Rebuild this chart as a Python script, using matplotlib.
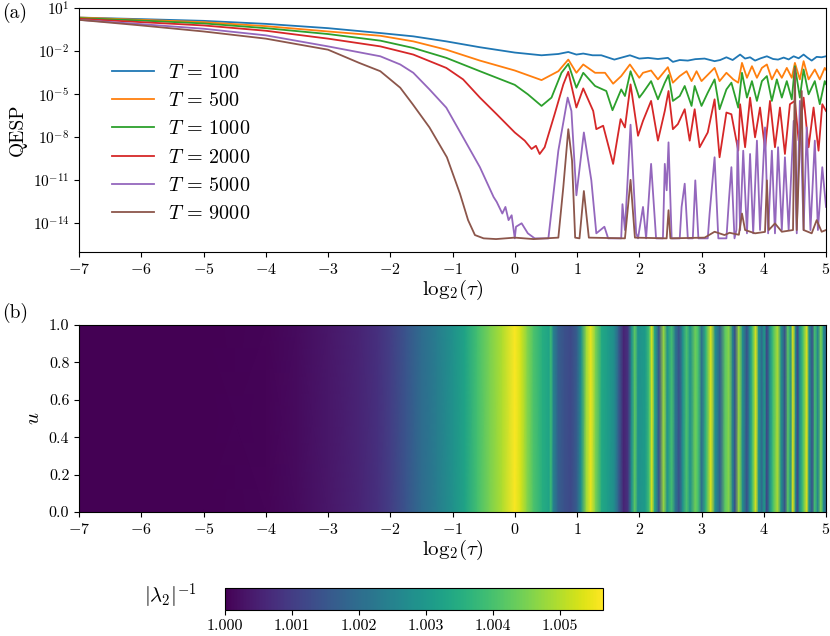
import numpy as np
import matplotlib
matplotlib.use('Agg')
import matplotlib.pyplot as plt

plt.rcParams['font.family'] = 'serif'
plt.rcParams['font.serif'] = ['cmr10', 'DejaVu Serif']
plt.rcParams['mathtext.fontset'] = 'cm'
plt.rcParams['axes.formatter.use_mathtext'] = True
plt.rcParams['axes.unicode_minus'] = True

# (log2(tau), log10(QESP))
qesp_T100 = [(-7, 0.34), (-6, 0.23), (-5, 0.11), (-4, -0.10), (-3, -0.40), (-2.16, -0.74),
             (-1.63, -0.97), (-1.1, -1.32), (-0.56, -1.73), (0, -2.10), (0.43, -2.29), (0.7, -2.20),
             (0.86, -2.06), (0.99, -2.24), (1.1, -2.17), (1.25, -2.29), (1.39, -2.29), (1.6, -2.59),
             (1.85, -2.29), (2.0, -2.52), (2.14, -2.47), (2.3, -2.55), (2.46, -2.47), (2.54, -2.75),
             (2.65, -2.62), (2.78, -2.66), (2.9, -2.56), (3.05, -2.52), (3.21, -2.70), (3.3, -2.62),
             (3.4, -2.43), (3.5, -2.62), (3.62, -2.24), (3.7, -2.52), (3.78, -2.43), (3.86, -2.66),
             (3.95, -2.50), (4.05, -2.36), (4.15, -2.55), (4.23, -2.59), (4.32, -2.45), (4.4, -2.58),
             (4.48, -2.36), (4.56, -2.50), (4.64, -2.24), (4.7, -2.45), (4.77, -2.66), (4.85, -2.40),
             (4.93, -2.43), (5.0, -2.36)]

qesp_T500 = [(-7, 0.34), (-6, 0.18), (-5, 0.02), (-4, -0.26), (-3, -0.63), (-2.16, -0.93),
             (-1.63, -1.32), (-1.1, -1.9), (-0.56, -2.66), (0, -3.35), (0.43, -4.02), (0.7, -3.4),
             (0.86, -2.59), (0.99, -3.51), (1.1, -2.93), (1.29, -3.51), (1.45, -3.51), (1.58, -4.27),
             (1.71, -3.74), (1.85, -2.93), (2.0, -3.86), (2.06, -3.51), (2.19, -3.35), (2.3, -3.97),
             (2.46, -3.12), (2.54, -4.2), (2.65, -3.74), (2.76, -3.4), (2.84, -4.09), (2.92, -3.4),
             (3.0, -4.09), (3.21, -3.17), (3.29, -4.09), (3.4, -3.51), (3.51, -3.97), (3.59, -4.2),
             (3.65, -2.82), (3.73, -3.86), (3.81, -3.05), (3.89, -3.86), (3.97, -3.17), (4.05, -2.93),
             (4.13, -3.97), (4.21, -3.28), (4.29, -3.86), (4.37, -3.17), (4.45, -3.86), (4.5, -2.82),
             (4.58, -3.97), (4.64, -2.7), (4.72, -3.97), (4.82, -3.28), (4.9, -3.97), (4.98, -3.17),
             (5.0, -3.3)]

qesp_T1000 = [(-7, 0.30), (-6, 0.13), (-5, -0.07), (-4, -0.40), (-3, -0.81), (-2.16, -1.27),
              (-1.63, -1.78), (-1.1, -2.47), (-0.56, -3.4), (0, -4.35), (0.21, -5.01), (0.43, -5.82),
              (0.59, -5.24), (0.75, -3.51), (0.86, -2.89), (0.99, -4.55), (1.1, -3.51), (1.29, -4.43),
              (1.47, -4.78), (1.57, -6.12), (1.71, -4.67), (1.77, -5.13), (1.86, -3.4), (2.0, -5.24),
              (2.06, -4.9), (2.19, -4.09), (2.3, -5.36), (2.41, -4.2), (2.47, -3.67), (2.54, -5.47),
              (2.65, -5.13), (2.73, -4.43), (2.84, -5.82), (2.89, -4.43), (3.0, -5.82), (3.1, -4.9),
              (3.21, -3.97), (3.29, -6.05), (3.4, -4.67), (3.48, -4.2), (3.59, -5.94), (3.65, -3.51),
              (3.73, -5.24), (3.81, -4.09), (3.89, -5.47), (3.97, -4.09), (4.05, -3.74), (4.13, -5.47),
              (4.21, -3.97), (4.29, -5.24), (4.37, -4.09), (4.45, -5.36), (4.5, -3.05), (4.58, -5.24),
              (4.64, -3.28), (4.72, -5.01), (4.82, -4.09), (4.9, -5.7), (4.98, -4.09), (5.0, -4.3)]

qesp_T2000 = [(-7, 0.25), (-6, 0.02), (-5, -0.21), (-4, -0.58), (-3, -1.13), (-2.16, -1.67),
              (-1.63, -2.24), (-1.1, -3.17), (-0.83, -3.97), (-0.56, -5.24), (-0.29, -6.4), (0, -7.67),
              (0.16, -8.24), (0.27, -8.82), (0.34, -8.6), (0.4, -9.17), (0.48, -8.7), (0.64, -6.4),
              (0.78, -4.32), (0.86, -3.44), (0.99, -5.93), (1.1, -4.6), (1.26, -6.17), (1.31, -7.44),
              (1.42, -7.2), (1.58, -9.86), (1.7, -6.74), (1.77, -7.32), (1.86, -4.32), (1.98, -7.9),
              (2.06, -6.86), (2.19, -5.47), (2.3, -8.24), (2.41, -6.17), (2.47, -4.78), (2.54, -7.44),
              (2.62, -7.09), (2.73, -6.05), (2.81, -8.24), (2.89, -6.05), (2.97, -8.7), (3.1, -7.67),
              (3.21, -5.36), (3.29, -9.4), (3.4, -6.28), (3.48, -6.4), (3.59, -8.94), (3.62, -5.7),
              (3.7, -8.7), (3.78, -5.24), (3.86, -8.01), (3.94, -5.93), (4.02, -8.82), (4.1, -5.47),
              (4.18, -8.7), (4.26, -5.93), (4.34, -9.17), (4.42, -5.7), (4.5, -5.47), (4.56, -8.24),
              (4.64, -5.24), (4.72, -8.7), (4.8, -5.93), (4.88, -8.94), (4.94, -5.7), (5.0, -6.17)]

qesp_T5000 = [(-7, 0.18), (-6, -0.12), (-5, -0.44), (-4, -0.9), (-3, -1.67), (-2.16, -2.36),
              (-1.84, -2.93), (-1.63, -3.51), (-1.37, -4.67), (-1.1, -5.94), (-0.83, -8.01),
              (-0.56, -10.09), (-0.34, -12.17), (-0.29, -12.51), (-0.2, -13.32), (-0.15, -12.86),
              (-0.1, -13.78), (-0.05, -13.44), (0.0, -15.05), (0.02, -14.24), (0.11, -14.0),
              (0.21, -14.7), (0.32, -15.05), (0.54, -15.05), (0.7, -8.94), (0.85, -5.24), (0.91, -6.17),
              (0.99, -12.05), (1.11, -7.67), (1.23, -11.01), (1.31, -14.7), (1.44, -14.24),
              (1.5, -15.05), (1.71, -15.05), (1.73, -12.67), (1.77, -14.47), (1.86, -7.13),
              (1.95, -14.7), (1.98, -15.05), (2.06, -12.86), (2.11, -15.05), (2.19, -9.86),
              (2.27, -15.05), (2.38, -15.05), (2.41, -9.86), (2.44, -11.7), (2.47, -8.36),
              (2.52, -15.05), (2.65, -15.05), (2.68, -12.86), (2.73, -11.24), (2.78, -15.05),
              (2.86, -15.05), (2.9, -11.01), (2.95, -15.05), (3.1, -15.05), (3.13, -13.32),
              (3.21, -9.4), (3.27, -15.05), (3.4, -15.05), (3.44, -12.4), (3.48, -10.09),
              (3.53, -15.05), (3.56, -14.47), (3.58, -8.24), (3.62, -14.47), (3.67, -8.94),
              (3.73, -14.7), (3.78, -9.17), (3.83, -14.7), (3.89, -8.24), (3.94, -14.47), (4.02, -7.32),
              (4.07, -14.7), (4.13, -8.94), (4.18, -14.7), (4.23, -8.7), (4.29, -14.47), (4.34, -9.4),
              (4.4, -14.47), (4.48, -6.86), (4.53, -14.7), (4.58, -5.47), (4.64, -14.47), (4.69, -7.32),
              (4.75, -14.47), (4.82, -8.24), (4.87, -14.47), (4.94, -10.09), (5.0, -12.86)]

qesp_T9000 = [(-7, 0.18), (-6, -0.21), (-5, -0.63), (-4, -1.13), (-3, -1.9), (-2.5, -2.82),
              (-2.16, -3.4), (-1.84, -4.55), (-1.64, -5.7), (-1.37, -7.32), (-1.09, -9.4),
              (-0.88, -11.94), (-0.75, -13.78), (-0.64, -14.82), (-0.5, -15.05), (-0.3, -15.1),
              (0, -15.0), (0.3, -15.1), (0.7, -15.0), (0.78, -11.47), (0.86, -7.44), (0.92, -9.63),
              (0.97, -15.0), (1.04, -15.05), (1.11, -11.75), (1.19, -15.0), (1.77, -15.05),
              (1.86, -10.97), (1.93, -15.0), (2.44, -15.05), (2.47, -13.09), (2.5, -15.05),
              (3.05, -15.0), (3.21, -14.59), (3.37, -14.82), (3.45, -14.66), (3.6, -14.8),
              (3.65, -13.32), (3.7, -14.47), (3.86, -14.7), (4.02, -14.6), (4.05, -11.01),
              (4.08, -14.47), (4.18, -14.01), (4.29, -14.59), (4.47, -14.47), (4.5, -3.17),
              (4.53, -14.47), (4.61, -4.78), (4.64, -14.47), (4.77, -14.7), (4.85, -13.78),
              (4.93, -14.59), (5.0, -14.47)]

T_values = [100, 500, 1000, 2000, 5000, 9000]
series = [qesp_T100, qesp_T500, qesp_T1000, qesp_T2000, qesp_T5000, qesp_T9000]

# |lambda_2|^-1 along log2(tau), independent of u
tau_grid = [-7, -5, -4, -3.5, -3, -2.5, -2.2, -2, -1.75, -1.5, -1.25, -1.0, -0.8, -0.6, -0.4, -0.2,
            0.0, 0.1, 0.2, 0.3, 0.45, 0.55, 0.58, 0.62, 0.7, 0.8, 0.9, 1.0, 1.07, 1.15, 1.22, 1.3,
            1.4, 1.5, 1.6, 1.67, 1.75, 1.82, 1.88, 1.93, 1.98, 2.1, 2.16, 2.2, 2.25, 2.32, 2.39,
            2.45, 2.52, 2.58, 2.64, 2.7, 2.76, 2.82, 2.9, 2.95, 3.0, 3.07, 3.15, 3.22, 3.3, 3.38,
            3.44, 3.5, 3.54, 3.6, 3.66, 3.73, 3.78, 3.82, 3.87, 3.92, 3.97, 4.01, 4.05, 4.1, 4.15,
            4.22, 4.28, 4.34, 4.39, 4.43, 4.47, 4.51, 4.54, 4.58, 4.63, 4.69, 4.73, 4.78, 4.82,
            4.87, 4.92, 4.96, 5.0]
inv_lambda2 = [1.00000, 1.00000, 1.00006, 1.00017, 1.00034, 1.00056, 1.00079, 1.00102, 1.00147,
               1.00197, 1.00237, 1.00282, 1.00327, 1.00395, 1.00451, 1.00496, 1.00560, 1.00525,
               1.00462, 1.00406, 1.00350, 1.00327, 1.00384, 1.00254, 1.00169, 1.00141, 1.00124,
               1.00169, 1.00282, 1.00479, 1.00547, 1.00451, 1.00338, 1.00310, 1.00271, 1.00169,
               1.00056, 1.00085, 1.00282, 1.00423, 1.00282, 1.00310, 1.00395, 1.00536, 1.00338,
               1.00141, 1.00479, 1.00282, 1.00395, 1.00226, 1.00141, 1.00282, 1.00406, 1.00282,
               1.00440, 1.00395, 1.00197, 1.00367, 1.00536, 1.00282, 1.00169, 1.00423, 1.00462,
               1.00254, 1.00141, 1.00479, 1.00282, 1.00141, 1.00282, 1.00395, 1.00536, 1.00282,
               1.00197, 1.00310, 1.00113, 1.00282, 1.00395, 1.00496, 1.00282, 1.00141, 1.00423,
               1.00282, 1.00536, 1.00282, 1.00113, 1.00282, 1.00395, 1.00536, 1.00282, 1.00141,
               1.00395, 1.00254, 1.00451, 1.00282, 1.00169]
u_edges = [0.0, 1.0]

colors = ['#1f77b4', '#ff7f0e', '#2ca02c', '#d62728', '#9467bd', '#8c564b']

fig = plt.figure(figsize=(8.3, 6.36), dpi=100)
ax1 = fig.add_axes([0.0952, 0.6038, 0.9, 0.3835])
ax2 = fig.add_axes([0.0952, 0.195, 0.9, 0.294])
cax = fig.add_axes([0.271, 0.041, 0.4554, 0.0346])

for T, data, c in zip(T_values, series, colors):
    d = np.array(data)
    ax1.plot(d[:, 0], 10.0 ** d[:, 1], color=c, lw=1.3, label=r'$T$ = %d' % T)

xlabel = r'$\mathrm{log}_2(\tau)$'

ax1.set_yscale('log')
ax1.set_ylim(1e-16, 1e1)
ax1.set_xlim(-7, 5)
ax1.set_yticks([1e1, 1e-2, 1e-5, 1e-8, 1e-11, 1e-14])
ax1.yaxis.set_minor_locator(matplotlib.ticker.NullLocator())
ax1.set_xticks(range(-7, 6))
ax1.tick_params(labelsize=11.5)
ax1.tick_params(axis='y', labelsize=11)
ax1.set_ylabel('QESP', fontsize=14)
ax1.set_xlabel(xlabel, fontsize=15, labelpad=1)
ax1.legend(loc='upper left', bbox_to_anchor=(0.02, 0.845), frameon=False, fontsize=14.5,
           handlelength=2.1, handletextpad=0.7, labelspacing=0.5, borderpad=0.4)

X = np.array([tau_grid, tau_grid])
U = np.array([[u_edges[0]] * len(tau_grid), [u_edges[1]] * len(tau_grid)])
C = np.array([inv_lambda2, inv_lambda2])
mesh = ax2.pcolormesh(X, U, C, shading='gouraud', cmap='viridis', vmin=1.0, vmax=1.00564)
ax2.set_xlim(-7, 5)
ax2.set_ylim(0, 1)
ax2.set_xticks(range(-7, 6))
ax2.set_yticks([0.0, 0.2, 0.4, 0.6, 0.8, 1.0])
ax2.yaxis.set_major_formatter(matplotlib.ticker.FormatStrFormatter('%.1f'))
ax2.tick_params(labelsize=11.5)
ax2.set_ylabel(r'$u$', fontsize=15)
ax2.set_xlabel(xlabel, fontsize=15, labelpad=1)

cb = fig.colorbar(mesh, cax=cax, orientation='horizontal')
cb.set_ticks([1.000, 1.001, 1.002, 1.003, 1.004, 1.005])
cb.ax.xaxis.set_major_formatter(matplotlib.ticker.FormatStrFormatter('%.3f'))
cb.ax.tick_params(labelsize=11.5)
fig.text(0.205, 0.062, r'$|\lambda_2|^{-1}$', ha='center', va='center', fontsize=15)

fig.text(0.003, 0.979, '(a)', ha='left', va='center', fontsize=14)
fig.text(0.003, 0.508, '(b)', ha='left', va='center', fontsize=14)

fig.savefig('out.png', dpi=100)
